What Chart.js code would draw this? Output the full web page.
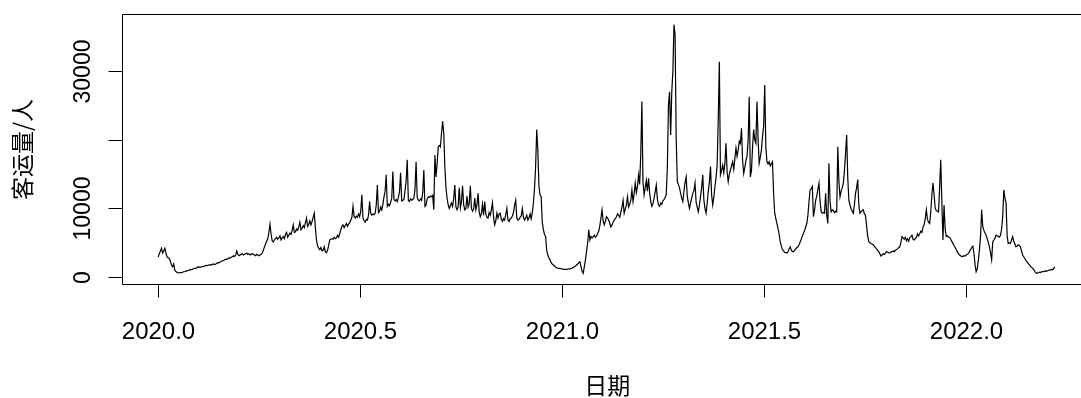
<!DOCTYPE html>
<html>
<head>
<meta charset="utf-8">
<script src="https://cdn.jsdelivr.net/npm/chart.js@4/dist/chart.umd.min.js"></script>
<style>
html,body{margin:0;padding:0;background:#fff;}
#wrap{width:1081px;height:398px;position:relative;}
</style>
</head>
<body>
<div id="wrap"><canvas id="c" width="1081" height="398"></canvas></div>
<script>
const startYear = 2020;
const frequency = 365;

const values2020 = [
2900,3400,3800,4200,3500,3800,4200,3500,2900,2800,2700,2300,1750,1500,1900,1000,800,650,600,620,650,640,700,
760,800,850,900,950,1000,1100,1050,1150,1200,1300,1250,1350,1500,1450,
1400,1500,1550,1500,1600,1700,1650,1700,1750,1800,1750,1850,1900,1800,1900,
2000,2100,2050,2200,2300,2350,2400,2500,2600,2550,2700,2800,2750,2900,2950,
3100,3000,3200,3800,3300,3100,3200,3300,3400,3200,3300,3400,3500,3300,3400,3200,3300,3400,3300,3200,3100,3300,3200,3100,3200,3300,3500,3900,4400,
4800,5200,5600,6500,7700,6200,5300,5100,5400,5600,5800,5500,5700,6000,5400,5700,5900,5600,6200,6500,5800,6100,6400,6200,6800,7600,6500,6600,7000,6800,7300,8000,6900,7100,7500,7200,7900,8600,7400,7700,8200,7600,8100,8700,9300,7200,
5400,4500,4200,4000,4300,3800,3900,4400,3700,3550,3900,4600,5400,5500,
5600,5500,5800,5600,5700,6100,5800,6300,6900,7400,7600,7200,7500,7800,7400,7700,7900,8300,8700,10300,
8800,8600,8900,8700,9200,8800,9600,
12000,8600,8200,8000,8400,8300,9000,
11000,9300,9000,9200,9100,9300,10500,
13400,9400,9600,10200,9800,10600,11700,
12500,14900,10300,10600,10400,10900,11500,
15400,11300,11100,11300,11000,11600,12400,
15200,11100,11200,11300,12600,14000,17100,
11200,11000,11400,11200,11300,11500,12800,
16800,11600,11200,11100,11400,11200,12300,
15600,10300,10500,11400,11700,11600,11800,
11700,11900,9800,
17800,14600,16500,19000,19200,19000,21000,22700,21000,16000,13000,11500,10500,10000,
10400,10800,10300,11500,13400,10200,9800,
10300,13000,10100,11000,13300,10500,9800,
10000,11800,10200,10700,13300,10000,9600,
9900,11500,9800,10500,12200,9500,8800,
9200,10600,9000,11000,9200,8700,8600,
9400,9000,9800,10800,8700,7600,8200,
9300,8600,9200,9300,8400,8100,8500,
8300,9100,10000,8300,8100,8500,8600,
8900,9400,10500,11200,8600,8300,8400,
8700,8900,10000,8700,8300,8600,9000,
8300,8600,9200,8500,9400,10800,
13000,16100,21500,18500,13200,12000,11700,8000,6900,6200,5900,3900,3200,2800,2500,2100,1900,1750,1600,1450,1350,1300,1270,1250,1200
];

const values2021 = [
1150,1150,1120,1100,1120,1150,1200,1150,1270,1300,1400,1500,1600,1750,1900,2100,2230,1500,800,540,1500,2500,3700,5000,6900,5400,5900,5700,
5900,6100,5800,6000,6300,6700,7500,
8600,9800,8200,7600,8100,8800,8600,
8300,7800,7300,7600,8000,8300,8500,
8800,9200,9000,8700,9500,10200,11200,
9300,9900,10500,11700,10200,10600,11200,
12700,11000,12100,13700,12300,13200,14900,
13500,
18000,25600,13900,12000,13000,14100,12500,
14400,12300,11000,10300,10700,11500,12400,
13400,11400,10500,10300,10800,10600,11100,
11300,11600,12000,15900,25000,27000,20700,
27000,30000,36800,35300,
20300,13900,13500,13000,12200,11500,11000,
12500,13800,14600,11800,10800,10000,10800,
11500,12200,12600,13700,10900,10200,9500,
10500,11800,13000,14900,11200,10000,9300,
10800,12500,13800,16100,12000,10500,11600,
13200,14500,16300,23000,31400,14900,15500,
16300,15200,16600,19500,15300,13900,15000,
15600,16200,16800,15700,17300,18800,17600,
18500,19800,
19500,21700,17000,15100,16000,17000,17600,
20000,26300,14600,15500,19000,21500,20000,
19500,25600,20000,16600,17500,18500,20500,
22000,28000,19000,16800,16500,16800,16200,
16500,16800,12200,9300,8500,7800,7100,
6200,5150,4500,4000,3800,3600,3550,
3500,3700,4100,4400,3900,3700,3700,
3900,4100,4300,4400,4700,5100,5500,
6000,6400,6800,7300,7800,9000,11000,
12700,12900,13200,8800,9800,11200,11800,
12800,13700,11000,9500,9300,9400,9300,
12200,9000,7800,16600,11000,9500,9800,
9700,9400,9600,9500,19000,14000,11700,
12500,13000,13700,15500,18000,20700,14500,
11200,10500,10000,9600,9300,10500,12200,
13000,14200,10500,9300,9500,9700,9800,
9200,9000,7500,6000,5150,5000,4900,
4800,4700,4500,4300,4100,3900,3700,
3400,3050,3200,3400,3300,3500,3700,
3600,3500,3500,
3600,3700,3800,3700,3900,4000,4100,
4300,4400,5000,5900,5700,5500,5800,
5300,5600,5200,5700,5900,6100,5500,
5400,5600,5800,6300,6000,6300,6700,
6500,7300,7600,8500,9800,8400,8000,
7800,9500,12000,13700,12000,10000,9700,
9600,9500,13000,17100,11000,5400,10500,
7000,5900,6000,5800,5800,5500,5200,
4900,4600,4300,4000,3700,3400,3200,
3100,2960,3000,3100,3050
];

const values2022 = [
3200,3300,
3450,3700,4000,4300,4500,3500,1800,
770,1200,2500,4000,6000,9800,7300,
6800,6400,6100,5600,5000,4400,3500,
2500,5150,5400,5700,6100,6000,5900,
5800,6100,7000,8800,12700,11500,10800,
6000,4900,5000,4900,5400,5900,5200,
4800,4400,4500,4700,4600,4400,3800,
3200,2960,2700,2400,2200,2000,1800,
1600,1400,1270,1100,800,600,540,
600,700,650,750,800,770,850,
900,850,950,1000,1020,1100,1050,
1200,1500
];

const xTickValues = [2020, 2020.5, 2021, 2021.5, 2022];
const xTickLabels = ['2020.0', '2020.5', '2021.0', '2021.5', '2022.0'];
const yTickValues = [0, 10000, 20000, 30000];
const yTickLabels = ['0', '10000', '', '30000'];
const xTitle = '日期';
const yTitle = '客运量/人';

const passengers = values2020.concat(values2021, values2022);
const points = passengers.map((v, i) => ({ x: startYear + i / frequency, y: v }));

const X_FONT = '24px "Liberation Sans", Arial, sans-serif';
const Y_FONT = '23px "Liberation Sans", Arial, sans-serif';
const CJK_FONT = '23px "Noto Sans CJK SC", sans-serif';

const rAxes = {
  id: 'rAxes',
  afterDraw(chart) {
    const { ctx, chartArea: a, scales: { x, y } } = chart;
    ctx.save();
    ctx.strokeStyle = '#000';
    ctx.lineWidth = 1;
    const L = Math.round(a.left) + 0.5;
    const T = Math.round(a.top) + 0.5;
    const B = Math.round(a.bottom) - 0.5;
    ctx.beginPath();
    ctx.moveTo(chart.width + 5, T);
    ctx.lineTo(L, T);
    ctx.lineTo(L, B);
    ctx.lineTo(chart.width + 5, B);
    ctx.stroke();

    ctx.fillStyle = '#000';
    ctx.textAlign = 'center';
    ctx.textBaseline = 'alphabetic';
    ctx.font = X_FONT;
    xTickValues.forEach((v, i) => {
      const px = Math.round(x.getPixelForValue(v)) + 0.5;
      ctx.beginPath();
      ctx.moveTo(px, B);
      ctx.lineTo(px, B + 13);
      ctx.stroke();
      ctx.fillText(xTickLabels[i], px, 339);
    });

    ctx.font = Y_FONT;
    yTickValues.forEach((v, i) => {
      const py = Math.round(y.getPixelForValue(v)) + 0.5;
      ctx.beginPath();
      ctx.moveTo(L - 14, py);
      ctx.lineTo(L, py);
      ctx.stroke();
      if (yTickLabels[i]) {
        ctx.save();
        ctx.translate(89.5, py);
        ctx.rotate(-Math.PI / 2);
        ctx.fillText(yTickLabels[i], 0, 0);
        ctx.restore();
      }
    });

    ctx.font = CJK_FONT;
    ctx.fillText(xTitle, (a.left + x.getPixelForValue(2022.3127)) / 2, 394);
    ctx.save();
    ctx.translate(31, (a.top + a.bottom) / 2);
    ctx.rotate(-Math.PI / 2);
    ctx.fillText(yTitle, 0, 0);
    ctx.restore();
    ctx.restore();
  }
};

new Chart(document.getElementById('c').getContext('2d'), {
  type: 'line',
  data: {
    datasets: [{
      data: points,
      borderColor: '#000',
      borderWidth: 1.2,
      pointRadius: 0,
      tension: 0,
      fill: false
    }]
  },
  options: {
    responsive: false,
    animation: false,
    devicePixelRatio: 1,
    layout: { padding: { left: 122, top: 14, right: 0, bottom: 113 } },
    plugins: { legend: { display: false }, tooltip: { enabled: false } },
    scales: {
      x: { type: 'linear', display: false, min: 2019.9104, max: 2022.2842 },
      y: { type: 'linear', display: false, min: -1166, max: 38354 }
    }
  },
  plugins: [rAxes]
});
</script>
</body>
</html>
